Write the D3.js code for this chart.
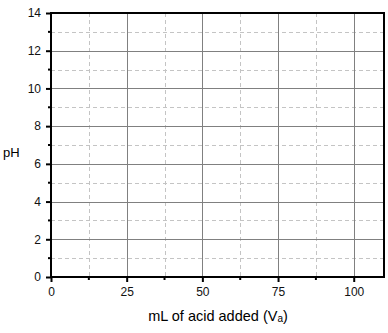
<!DOCTYPE html>
<html>
<head>
<meta charset="utf-8">
<script src="https://cdn.jsdelivr.net/npm/d3@7"></script>
<style>
  body { margin: 0; background: #fff; }
  text { font-family: "Liberation Sans", Arial, sans-serif; }
</style>
</head>
<body>
<svg id="chart" width="388" height="333"></svg>
<script>
// axis ranges and ticks
var xDomain = [0, 110];
var yDomain = [0, 14];
var xMajor = [0, 25, 50, 75, 100];
var xMinor = [12.5, 37.5, 62.5, 87.5];
var yMajor = [0, 2, 4, 6, 8, 10, 12, 14];
var yMinor = [1, 3, 5, 7, 9, 11, 13];
var xTitle = "mL of acid added (V";
var xTitleSub = "a";
var yTitle = "pH";

var svg = d3.select('#chart');
var plotLeft = 51, plotRight = 384, plotTop = 13, plotBottom = 277;

var x = d3.scaleLinear().domain(xDomain).range([plotLeft, plotRight]);
var y = d3.scaleLinear().domain(yDomain).range([plotBottom, plotTop]);

// minor grid, dashed
svg.append('g').selectAll('line').data(xMinor).enter().append('line')
	.attr('x1', d => Math.round(x(d)) + 0.5).attr('x2', d => Math.round(x(d)) + 0.5)
	.attr('y1', plotTop).attr('y2', plotBottom)
	.attr('stroke', '#c4c4c4').attr('stroke-dasharray', '4,3');
svg.append('g').selectAll('line').data(yMinor).enter().append('line')
	.attr('y1', d => Math.round(y(d)) + 0.5).attr('y2', d => Math.round(y(d)) + 0.5)
	.attr('x1', plotLeft).attr('x2', plotRight)
	.attr('stroke', '#c4c4c4').attr('stroke-dasharray', '4,3');

// major grid, solid
svg.append('g').selectAll('line').data(xMajor).enter().append('line')
	.attr('x1', d => Math.round(x(d)) + 0.5).attr('x2', d => Math.round(x(d)) + 0.5)
	.attr('y1', plotTop).attr('y2', plotBottom)
	.attr('stroke', '#808080');
svg.append('g').selectAll('line').data(yMajor).enter().append('line')
	.attr('y1', d => Math.round(y(d)) + 0.5).attr('y2', d => Math.round(y(d)) + 0.5)
	.attr('x1', plotLeft).attr('x2', plotRight)
	.attr('stroke', '#808080');

// axes with ticks
var xAxis = d3.axisBottom(x).tickValues(xMajor).tickSize(5).tickPadding(5);
var yAxis = d3.axisLeft(y).tickValues(yMajor).tickSize(5).tickPadding(5);

var gx = svg.append('g').attr('transform', 'translate(0,' + plotBottom + ')').call(xAxis);
var gy = svg.append('g').attr('transform', 'translate(' + plotLeft + ',0)').call(yAxis);

[gx, gy].forEach(function (g)
{
	g.select('.domain').remove();
	g.selectAll('line').attr('stroke', '#000').attr('stroke-width', 2);
	g.selectAll('text').attr('font-size', 12).attr('fill', '#111')
		.attr('font-family', '"Liberation Sans", Arial, sans-serif');
});

// minor ticks
svg.append('g').selectAll('line').data(xMinor).enter().append('line')
	.attr('x1', d => x(d)).attr('x2', d => x(d))
	.attr('y1', plotBottom).attr('y2', plotBottom + 3)
	.attr('stroke', '#000').attr('stroke-width', 2);
svg.append('g').selectAll('line').data(yMinor).enter().append('line')
	.attr('y1', d => y(d)).attr('y2', d => y(d))
	.attr('x1', plotLeft - 3).attr('x2', plotLeft)
	.attr('stroke', '#000').attr('stroke-width', 2);

// frame
svg.append('rect')
	.attr('x', plotLeft).attr('y', plotTop)
	.attr('width', plotRight - plotLeft).attr('height', plotBottom - plotTop)
	.attr('fill', 'none').attr('stroke', '#000').attr('stroke-width', 2);

// titles
var t = svg.append('text')
	.attr('x', 218).attr('y', 321)
	.attr('text-anchor', 'middle').attr('font-size', 14.5).attr('fill', '#000');
t.append('tspan').text(xTitle);
t.append('tspan').text(xTitleSub).attr('font-size', 10).attr('dy', 1);
t.append('tspan').text(')').attr('dy', -1);

svg.append('text')
	.attr('x', 3).attr('y', 157)
	.attr('font-size', 13).attr('fill', '#000')
	.text(yTitle);
</script>
</body>
</html>
